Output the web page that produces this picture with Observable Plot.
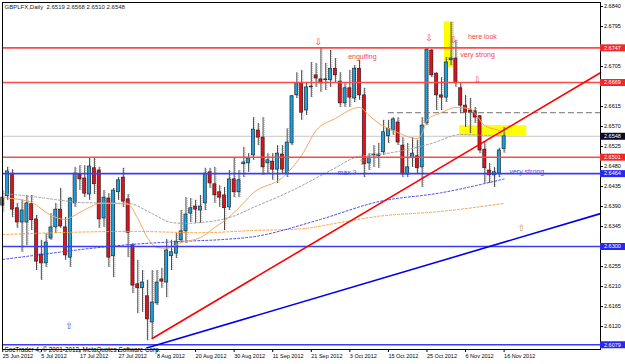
<!DOCTYPE html>
<html><head><meta charset="utf-8">
<script src="https://cdn.jsdelivr.net/npm/d3@7"></script>
<script src="https://cdn.jsdelivr.net/npm/@observablehq/plot@0.6"></script>
<style>
html,body{margin:0;padding:0;background:#fff;}
svg{display:block;}
</style></head><body><div id="chart"></div>
<script>
// ---------- data ----------
const titleText = "GBPLFX,Daily  2.6519 2.6568 2.6510 2.6548";
const copyrightText = "SocTrader 4, \u00A9 2001-2012, MetaQuotes Software Corp.";

const opens = [2.6392,2.6413,2.6464,2.6386,2.6354,2.6354,2.6395,2.6361,2.6282,2.6262,
2.6318,2.6343,2.6383,2.6343,2.6275,2.6397,2.6462,2.6453,2.6417,2.6476,
2.6471,2.6363,2.6408,2.6278,2.6422,2.6455,2.6406,2.6302,2.6215,2.6206,
2.6188,2.6129,2.6172,2.6226,2.6219,2.6278,2.6284,2.6314,2.6334,2.6374,
2.6390,2.6381,2.6397,2.6467,2.6440,2.6422,2.6415,2.6388,2.6451,2.6422,
2.6485,2.6487,2.6505,2.6561,2.6545,2.6487,2.6491,2.6473,2.6507,2.6464,
2.6532,2.6640,2.6667,2.6606,2.6658,2.6685,2.6676,2.6674,2.6674,2.6700,
2.6671,2.6622,2.6656,2.6633,2.6700,2.6640,2.6487,2.6505,2.6503,2.6512,
2.6548,2.6561,2.6579,2.6527,2.6462,2.6500,2.6503,2.6478,2.6577,2.6741,
2.6689,2.6640,2.6635,2.6719,2.6723,2.6656,2.6617,2.6606,2.6604,2.6593,
2.6518,2.6471,2.6460,2.6464,2.6519];
const highs = [2.6426,2.6478,2.6473,2.6397,2.6404,2.6415,2.6415,2.6370,2.6314,2.6329,
2.6374,2.6397,2.6431,2.6365,2.6410,2.6478,2.6482,2.6482,2.6500,2.6500,
2.6478,2.6426,2.6419,2.6431,2.6455,2.6476,2.6417,2.6307,2.6269,2.6246,
2.6224,2.6246,2.6246,2.6251,2.6316,2.6314,2.6329,2.6381,2.6410,2.6408,
2.6404,2.6415,2.6476,2.6476,2.6478,2.6437,2.6433,2.6471,2.6500,2.6471,
2.6523,2.6509,2.6590,2.6577,2.6590,2.6509,2.6509,2.6527,2.6527,2.6565,
2.6640,2.6691,2.6696,2.6667,2.6714,2.6712,2.6746,2.6712,2.6741,2.6723,
2.6691,2.6669,2.6696,2.6707,2.6719,2.6656,2.6509,2.6527,2.6532,2.6584,
2.6584,2.6590,2.6590,2.6545,2.6532,2.6545,2.6539,2.6590,2.6746,2.6743,
2.6691,2.6680,2.6725,2.6804,2.6764,2.6667,2.6640,2.6633,2.6613,2.6595,
2.6534,2.6487,2.6478,2.6521,2.6568];
const lows = [2.6377,2.6404,2.6365,2.6341,2.6287,2.6302,2.6336,2.6246,2.6224,2.6253,
2.6314,2.6329,2.6341,2.6269,2.6253,2.6388,2.6426,2.6410,2.6404,2.6417,
2.6341,2.6343,2.6253,2.6230,2.6404,2.6388,2.6275,2.6194,2.6149,2.6152,
2.6088,2.6093,2.6167,2.6206,2.6185,2.6246,2.6273,2.6307,2.6307,2.6354,
2.6352,2.6352,2.6381,2.6431,2.6397,2.6388,2.6336,2.6381,2.6410,2.6410,
2.6455,2.6467,2.6494,2.6527,2.6460,2.6464,2.6449,2.6442,2.6464,2.6455,
2.6527,2.6633,2.6584,2.6595,2.6635,2.6658,2.6647,2.6651,2.6658,2.6667,
2.6613,2.6613,2.6613,2.6624,2.6629,2.6455,2.6471,2.6478,2.6476,2.6505,
2.6532,2.6550,2.6527,2.6455,2.6455,2.6478,2.6464,2.6433,2.6572,2.6680,
2.6606,2.6606,2.6624,2.6707,2.6658,2.6599,2.6568,2.6554,2.6577,2.6509,
2.6442,2.6442,2.6433,2.6455,2.6510];
const closes = [2.6410,2.6469,2.6383,2.6354,2.6381,2.6397,2.6359,2.6266,2.6262,2.6309,
2.6343,2.6383,2.6345,2.6280,2.6408,2.6464,2.6451,2.6419,2.6480,2.6440,
2.6361,2.6410,2.6275,2.6426,2.6449,2.6401,2.6331,2.6212,2.6206,2.6219,
2.6136,2.6174,2.6219,2.6221,2.6291,2.6287,2.6311,2.6334,2.6372,2.6386,
2.6383,2.6390,2.6464,2.6442,2.6415,2.6410,2.6386,2.6451,2.6422,2.6449,
2.6489,2.6498,2.6563,2.6545,2.6478,2.6494,2.6473,2.6509,2.6473,2.6534,
2.6638,2.6667,2.6601,2.6658,2.6660,2.6678,2.6667,2.6676,2.6700,2.6685,
2.6622,2.6656,2.6635,2.6700,2.6640,2.6485,2.6500,2.6507,2.6507,2.6557,
2.6565,2.6586,2.6534,2.6462,2.6478,2.6509,2.6476,2.6572,2.6743,2.6685,
2.6640,2.6635,2.6714,2.6723,2.6667,2.6617,2.6601,2.6601,2.6590,2.6516,
2.6476,2.6460,2.6467,2.6516,2.6548];

// moving averages (bar index, value) read at sample bars
const maFastBars = [0,2,6,10,13,14,16,18,20,22,26,28,30,32,34,37,41,44,46,49,52,58,62,65,69,74,76,78,81,86,87,88,91,94,97,98,100,103,104];
const maFastVals = [2.6410,2.6408,2.6399,2.6370,2.6361,2.6365,2.6377,2.6388,2.6397,2.6397,2.6395,2.6363,2.6320,2.6298,2.6296,2.6309,2.6320,2.6343,2.6358,2.6387,2.6421,2.6455,2.6505,2.6561,2.6588,2.6613,2.6595,2.6577,2.6561,2.6543,2.6554,2.6584,2.6601,2.6613,2.6610,2.6599,2.6572,2.6561,2.6557];
const maSlowBars = [0,8,12,16,26,31,35,38,41,47,52,60,68,74,78,89,95,101,104];
const maSlowVals = [2.6419,2.6410,2.6404,2.6399,2.6397,2.6374,2.6354,2.6352,2.6354,2.6365,2.6388,2.6426,2.6471,2.6503,2.6507,2.6532,2.6552,2.6550,2.6550];
const maBlueBars = [0,8,16,26,36,46,52,65,78,91,104];
const maBlueVals = [2.6271,2.6282,2.6293,2.6304,2.6311,2.6316,2.6322,2.6358,2.6401,2.6421,2.6452];
const maOrangeBars = [0,27,41,52,62,70,78,91,104];
const maOrangeVals = [2.6327,2.6334,2.6331,2.6336,2.6340,2.6354,2.6368,2.6379,2.6397];

// objects
const redLevels = [2.6747, 2.6669, 2.6501];
const blueLevels = [2.6464, 2.6300, 2.6079];
const bidPrice = 2.6548;
const dashedLevel = 2.6601, dashedFromBar = 80;
const redTrendBars = [31, 124], redTrendPrices = [2.6093, 2.6691];
const blueTrendBars = [30, 124], blueTrendPrices = [2.6072, 2.6374];
const rectBar1 = [91.6, 94.8], rectBar2 = [93.7, 108.7], rectTop = [2.6806, 2.6572], rectBottom = [2.6703, 2.6548];
const noteText = ["engulfing", "max ?", "here look", "very strong", "very strong"];
const noteBar = [74.6, 71.4, 99.5, 98.5, 108.7];
const notePrice = [2.6728, 2.6466, 2.6773, 2.6732, 2.6469];
const noteColor = ["#F04848", "#4A4AE8", "#F04848", "#F04848", "#4A4AE8"];
const downBar = [65.5, 88.5, 93.5, 98.5], downPrice = [2.6759, 2.6768, 2.6764, 2.6674];
const upBar = [13.8, 74.6, 107.6], upPrice = [2.6120, 2.6490, 2.6341], upColor = ["#3A50C0", "#A8A090", "#C8904A"];

const yTicks = [2.6840,2.6795,2.6705,2.6615,2.6570,2.6525,2.6480,2.6435,2.6390,2.6345,2.6255,2.6210,2.6165,2.6120];
const boxLevels = [2.6747, 2.6669, 2.6548, 2.6501, 2.6464, 2.6300, 2.6079];
const boxColors = ["#F02828", "#F02828", "#0A0A28", "#F02828", "#2828F0", "#2828F0", "#2828F0"];
const dateIdx = [0,8,16,24,32,40,48,56,64,72,80,88,96,104];
const dateLabels = ["25 Jun 2012","5 Jul 2012","17 Jul 2012","27 Jul 2012","8 Aug 2012","20 Aug 2012","30 Aug 2012","11 Sep 2012","21 Sep 2012","3 Oct 2012","15 Oct 2012","25 Oct 2012","6 Nov 2012","16 Nov 2012"];

// ---------- build tables ----------
const candles = opens.map((o, i) => ({i, o, h: highs[i], l: lows[i], c: closes[i], up: closes[i] >= o}));
const series = (bars, vals) => bars.map((b, k) => ({b, v: vals[k]}));
const rects = rectBar1.map((b, k) => ({b1: b, b2: rectBar2[k], p1: rectTop[k], p2: rectBottom[k]}));
const notes = noteText.map((t, k) => ({t, b: noteBar[k], p: notePrice[k], c: noteColor[k]}));
const downs = downBar.map((b, k) => ({b, p: downPrice[k]}));
const ups = upBar.map((b, k) => ({b, p: upPrice[k], c: upColor[k]}));
const boxes = boxLevels.map((v, k) => ({v, c: boxColors[k]}));

const X_MIN = -0.06, X_MAX = 124, X_BOX = 129.2;
const BULL = "#1E9EDC", BEAR = "#E2121C";
const FONT = "'Liberation Sans', Arial, sans-serif";

const chart = Plot.plot({
  width: 625, height: 364,
  marginLeft: 2, marginRight: 25, marginTop: 2, marginBottom: 15,
  x: {domain: [X_MIN, X_MAX], axis: null},
  y: {domain: [2.60683, 2.68490], axis: null},
  color: {type: "identity"},
  style: {fontFamily: FONT, fontSize: "5.5px", background: "#fff", color: "#000", overflow: "visible"},
  marks: [
    Plot.rect(rects, {x1: "b1", x2: "b2", y1: "p1", y2: "p2", fill: "#FFFF00"}),
    Plot.ruleY([bidPrice], {stroke: "#C8C8C8", strokeWidth: 1}),
    // candles
    Plot.ruleX(candles, {x: "i", y1: "l", y2: "h", dx: 1.3, stroke: "#B8B8B8", strokeWidth: 1, strokeDasharray: "1,1"}),
    Plot.ruleX(candles, {x: "i", y1: "l", y2: "h", stroke: "#4A4A4A", strokeWidth: 1}),
    Plot.rect(candles, {x1: d => d.i - 0.32, x2: d => d.i + 0.32, y1: "o", y2: "c", fill: d => d.up ? BULL : BEAR, stroke: "#151515", strokeWidth: 0.6}),
    // moving averages
    Plot.line(series(maOrangeBars, maOrangeVals), {x: "b", y: "v", stroke: "#F5A040", strokeWidth: 1, strokeDasharray: "2,2", curve: "monotone-x"}),
    Plot.line(series(maBlueBars, maBlueVals), {x: "b", y: "v", stroke: "#4646F0", strokeWidth: 1, strokeDasharray: "2,2", curve: "monotone-x"}),
    Plot.line(series(maSlowBars, maSlowVals), {x: "b", y: "v", stroke: "#A0A0A0", strokeWidth: 1, strokeDasharray: "2,2", curve: "monotone-x"}),
    Plot.line(series(maFastBars, maFastVals), {x: "b", y: "v", stroke: "#F4A860", strokeWidth: 1, curve: "monotone-x"}),
    // horizontal objects
    Plot.ruleY(redLevels, {stroke: "#FF4848", strokeWidth: 1.6}),
    Plot.ruleY(blueLevels, {stroke: "#3C3CF5", strokeWidth: 1.6}),
    Plot.ruleY([dashedLevel], {x1: () => dashedFromBar, x2: () => X_MAX, stroke: "#707070", strokeWidth: 1, strokeDasharray: "6,3"}),
    // trend lines
    Plot.line(series(redTrendBars, redTrendPrices), {x: "b", y: "v", stroke: "#FF0000", strokeWidth: 1.6}),
    Plot.line(series(blueTrendBars, blueTrendPrices), {x: "b", y: "v", stroke: "#0000F0", strokeWidth: 1.6}),
    // annotations
    Plot.text(notes, {x: "b", y: "p", text: "t", fill: "c", fontSize: 7, fontFamily: FONT}),
    Plot.text(downs, {x: "b", y: "p", text: () => "\u21E9", fill: "#FF4040", fontSize: 9, fontFamily: "DejaVu Sans"}),
    Plot.text(ups, {x: "b", y: "p", text: () => "\u21E7", fill: "c", fontSize: 9, fontFamily: "DejaVu Sans"}),
    Plot.text([titleText], {frameAnchor: "top-left", dx: 2, dy: 2.5, textAnchor: "start", fontSize: 6, fill: "#222"}),
    Plot.text([copyrightText], {frameAnchor: "bottom-left", dx: 2, dy: 2, textAnchor: "start", fontSize: 6.3, fill: "#000"}),
    Plot.frame({stroke: "#000", strokeWidth: 1}),
    // axes
    Plot.axisY(yTicks, {anchor: "right", tickSize: 2, tickPadding: 1.5, tickFormat: d => d.toFixed(4), fontSize: 5.5}),
    Plot.axisX(dateIdx, {anchor: "bottom", tickSize: 3, tickPadding: 1.5, tickFormat: d => dateLabels[dateIdx.indexOf(d)], textAnchor: "start", fontSize: 5.5}),
    // price labels on the right
    Plot.ruleY(boxes, {y: "v", x1: () => X_MAX, x2: () => X_BOX, stroke: "c", strokeWidth: 7}),
    Plot.text(boxes, {x: () => X_MAX, y: "v", text: d => d.v.toFixed(4), dx: 3.5, textAnchor: "start", fill: "#fff", fontSize: 5.5})
  ]
});
document.getElementById("chart").appendChild(chart);
</script></body></html>
